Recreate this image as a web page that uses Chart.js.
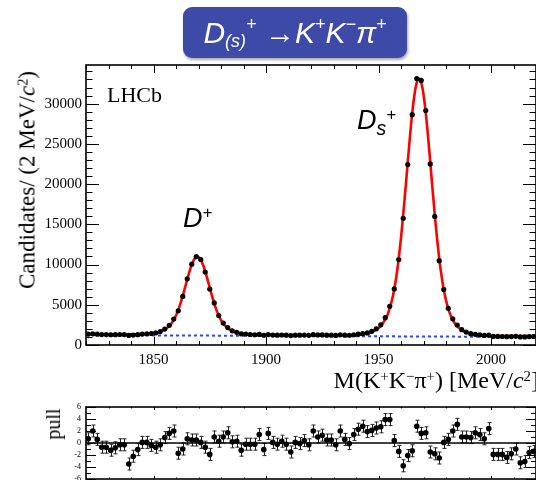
<!DOCTYPE html>
<html>
<head>
<meta charset="utf-8">
<script src="https://cdn.jsdelivr.net/npm/chart.js@4/dist/chart.umd.min.js"></script>
<style>
  html, body { margin: 0; padding: 0; background: #fff; }
  body { width: 536px; height: 480px; position: relative; overflow: hidden; }
  .panel { position: absolute; left: 0; width: 536px; }
  .txt { position: absolute; white-space: nowrap; line-height: 1; color: #000; }
  .serif { font-family: "Liberation Serif", "DejaVu Serif", serif; }
  .sans { font-family: "Liberation Sans", Arial, sans-serif; font-style: italic; }
  sub, sup { line-height: 0; position: relative; }
  #titleBox {
    position: absolute; left: 183px; top: 7px; width: 224px; height: 51px;
    background: #3e4aa8; border-radius: 9px;
    box-shadow: 1px 2px 3px rgba(0,0,0,0.35);
    color: #fff; display: flex; align-items: center; justify-content: center;
    font-family: "Liberation Sans", Arial, sans-serif; font-style: italic; font-size: 30px;
    line-height: 1; white-space: nowrap;
  }
  #titleBox sub { font-size: 0.6em; vertical-align: 0; top: 0.45em; }
  #titleBox sup { font-size: 0.6em; vertical-align: 0; top: -0.45em; }
  .axisTitle sup { font-size: 0.62em; vertical-align: 0; top: -0.5em; }
  .peak sup { font-size: 0.62em; vertical-align: 0; top: -0.55em; }
  .peak sub { font-size: 0.72em; vertical-align: 0; top: 0.3em; }
</style>
</head>
<body>
<div class="panel" style="top:0;height:395px"><canvas id="mainChart"></canvas></div>
<div class="panel" style="top:395px;height:85px"><canvas id="pullChart"></canvas></div>

<div id="titleBox">D<sub>(s)</sub><sup>+</sup>&nbsp;→K<sup>+</sup>K<sup>−</sup>π<sup>+</sup></div>

<div class="txt serif" style="left:107px;top:84px;font-size:22px">LHCb</div>
<div class="txt sans peak" style="left:183px;top:205px;font-size:27px">D<sup>+</sup></div>
<div class="txt sans peak" style="left:357px;top:107px;font-size:27px">D<sub>s</sub><sup>+</sup></div>

<div class="txt serif axisTitle" style="left:27px;top:180px;font-size:23px;transform:translate(-50%,-50%) rotate(-90deg)">Candidates/ (2 MeV/<i>c</i><sup>2</sup>)</div>
<div class="txt serif axisTitle" style="right:-3px;top:368px;font-size:24px">M(K<sup>+</sup>K<sup>−</sup>π<sup>+</sup>) [MeV/<i>c</i><sup>2</sup>]</div>
<div class="txt serif" style="left:53px;top:424px;font-size:20px;transform:translate(-50%,-50%) rotate(-90deg)">pull</div>

<script>
// Invariant-mass bin centres (2 MeV/c^2 bins) [MeV/c^2]
const massBins = [
  1821,1823,1825,1827,1829,1831,1833,1835,1837,1839,
  1841,1843,1845,1847,1849,1851,1853,1855,1857,1859,
  1861,1863,1865,1867,1869,1871,1873,1875,1877,1879,
  1881,1883,1885,1887,1889,1891,1893,1895,1897,1899,
  1901,1903,1905,1907,1909,1911,1913,1915,1917,1919,
  1921,1923,1925,1927,1929,1931,1933,1935,1937,1939,
  1941,1943,1945,1947,1949,1951,1953,1955,1957,1959,
  1961,1963,1965,1967,1969,1971,1973,1975,1977,1979,
  1981,1983,1985,1987,1989,1991,1993,1995,1997,1999,
  2001,2003,2005,2007,2009,2011,2013,2015,2017,2019
];

// Candidates per bin
const candidates = [
  1355,1400,1346,1297,1295,1273,1286,1302,1300,1187,
  1239,1289,1353,1388,1427,1509,1675,1976,2445,3234,
  4242,6033,8229,10041,10984,10613,9075,6954,5227,3667,
  2721,2169,1767,1575,1395,1353,1303,1272,1309,1209,
  1297,1239,1225,1241,1221,1172,1227,1217,1233,1206,
  1284,1247,1254,1224,1222,1192,1273,1227,1210,1277,
  1344,1426,1502,1694,2011,2507,3390,4813,6964,10620,
  15739,22427,28627,33108,32889,29130,22506,15978,10486,6913,
  4560,3248,2486,1901,1602,1410,1326,1249,1186,1222,
  1066,1060,1054,1035,1053,1077,998,1003,1051,1055
];

// Fit model (signal + background), sampled along the mass axis
const fitMass = [
  1820,1821,1823,1825,1827,1829,1831,1833,1835,1837,
  1839,1841,1843,1845,1847,1849,1851,1853,1854,1855,
  1856,1857,1858,1859,1860,1861,1862,1863,1864,1865,
  1866,1867,1868,1869,1869.5,1870,1871,1872,1873,1874,
  1875,1876,1877,1878,1879,1880,1881,1882,1883,1884,
  1885,1887,1889,1891,1893,1895,1897,1899,1901,1903,
  1905,1907,1909,1911,1913,1915,1917,1919,1921,1923,
  1925,1927,1929,1931,1933,1935,1937,1939,1941,1943,
  1945,1947,1949,1950,1951,1952,1953,1954,1955,1956,
  1957,1958,1959,1960,1961,1962,1963,1964,1965,1966,
  1967,1968,1969,1970,1971,1972,1973,1974,1975,1976,
  1977,1978,1979,1980,1981,1982,1983,1984,1985,1986,
  1987,1989,1991,1993,1995,1997,1999,2001,2003,2005,
  2007,2009,2011,2013,2015,2017,2019,2020
];
const fitValue = [
  1330,1329,1327,1324,1322,1320,1317,1315,1313,1311,
  1314,1319,1329,1349,1384,1442,1536,1687,1795,1936,
  2122,2367,2695,3122,3671,4354,5173,6111,7126,8166,
  9150,9991,10607,10932,10974,10931,10603,9985,9142,8156,
  7114,6096,5155,4334,3649,3098,2669,2339,2091,1903,
  1759,1563,1441,1360,1310,1279,1259,1248,1241,1235,
  1232,1230,1228,1225,1223,1221,1219,1216,1214,1212,
  1209,1207,1205,1202,1204,1206,1213,1228,1262,1324,
  1430,1610,1902,2108,2375,2720,3170,3762,4550,5584,
  6931,8644,10765,13305,16223,19420,22744,25968,28848,31131,
  32602,33108,32600,31127,28841,25960,22732,19406,16207,13287,
  10745,8621,6905,5556,4520,3730,3136,2683,2336,2067,
  1858,1562,1377,1266,1200,1162,1141,1130,1124,1117,
  1115,1113,1110,1108,1106,1104,1101,1100
];

// Combinatorial background component
const bkgMass = [1820, 2020];
const bkgValue = [1230, 1000];

// Pull per bin: (data - fit) / error
const pulls = [
  0.7, 2.0, 0.6, -0.7, -0.7, -1.2, -0.8, -0.3, -0.3, -3.5,
  -2.2, -1.1, 0.1, 0.1, -0.4, -0.7, -0.3, 0.9, 1.6, 2.0,
  -1.7, -1.0, 0.7, 0.5, 0.5, 0.1, -0.7, -1.9, 1.0, 0.3,
  1.0, 1.7, 0.2, 0.3, -1.2, -0.2, -0.2, -0.2, 1.4, -1.1,
  1.6, 0.1, -0.2, 0.3, -0.2, -1.5, 0.1, -0.1, 0.4, -0.3,
  2.0, 1.0, 1.3, 0.5, 0.5, -0.3, 2.0, 0.6, -0.1, 1.4,
  2.3, 2.8, 1.9, 2.1, 2.5, 2.7, 3.9, 3.9, 0.4, -1.4,
  -3.8, -2.1, -1.3, 2.8, 1.6, 1.7, -1.5, -1.8, -2.5, 0.1,
  0.6, 2.0, 3.1, 1.0, 1.0, 0.9, 1.7, 1.4, 0.7, 2.4,
  -1.9, -1.9, -1.9, -2.4, -1.8, -1.0, -3.3, -3.1, -1.6, -1.4
];
const pullError = 1;

// Axis ranges and labelled tick values
const massRange = [1820, 2020];
const massTicks = [1850, 1900, 1950, 2000];
const countRange = [0, 34800];
const countTicks = [0, 5000, 10000, 15000, 20000, 25000, 30000];
const pullRange = [-6, 6];
const pullTicks = [-6, -4, -2, 0, 2, 4, 6];

Chart.defaults.font.family = '"Liberation Serif", "DejaVu Serif", serif';
Chart.defaults.color = '#000';

const setTicks = values => scale => { scale.ticks = values.map(v => ({ value: v })); };
const plainNumber = v => String(v);

// Frame with inward-pointing major/minor ticks on all four sides
const frameTicks = {
  id: 'frameTicks',
  afterDatasetsDraw(chart, args, o) {
    const { ctx, chartArea: a, scales: { x, y } } = chart;
    ctx.save();
    ctx.strokeStyle = '#000';
    ctx.lineWidth = 1;
    ctx.beginPath();
    const eps = 1e-6;
    for (let v = Math.ceil(x.min / o.xMinor) * o.xMinor; v <= x.max + eps; v += o.xMinor) {
      const p = Math.round(x.getPixelForValue(v)) + 0.5;
      const isMajor = Math.abs(v / o.xMajor - Math.round(v / o.xMajor)) < eps;
      const len = isMajor ? o.xLen[0] : o.xLen[1];
      ctx.moveTo(p, a.bottom); ctx.lineTo(p, a.bottom - len);
      ctx.moveTo(p, a.top); ctx.lineTo(p, a.top + len);
    }
    for (let v = Math.ceil(y.min / o.yMinor) * o.yMinor; v <= y.max + eps; v += o.yMinor) {
      const p = Math.round(y.getPixelForValue(v)) + 0.5;
      const isMajor = Math.abs(v / o.yMajor - Math.round(v / o.yMajor)) < eps;
      const len = isMajor ? o.yLen[0] : o.yLen[1];
      ctx.moveTo(a.left, p); ctx.lineTo(a.left + len, p);
      ctx.moveTo(a.right, p); ctx.lineTo(a.right - len, p);
    }
    ctx.stroke();
    if (o.zeroLine) {
      const p = y.getPixelForValue(0);
      ctx.lineWidth = 1.5;
      ctx.beginPath(); ctx.moveTo(a.left, p); ctx.lineTo(a.right, p); ctx.stroke();
    }
    ctx.lineWidth = 1.6;
    ctx.strokeRect(a.left, a.top, a.right - a.left, a.bottom - a.top);
    ctx.restore();
  }
};

// Vertical error bars with small caps for the pull points
const pullErrorBars = {
  id: 'pullErrorBars',
  beforeDatasetsDraw(chart) {
    const { ctx, scales: { x, y } } = chart;
    ctx.save();
    ctx.strokeStyle = '#222';
    ctx.lineWidth = 1;
    ctx.beginPath();
    pulls.forEach((p, i) => {
      const px = Math.round(x.getPixelForValue(massBins[i])) + 0.5;
      const y1 = y.getPixelForValue(p + pullError);
      const y2 = y.getPixelForValue(p - pullError);
      ctx.moveTo(px, y1); ctx.lineTo(px, y2);
      ctx.moveTo(px - 2, y1); ctx.lineTo(px + 2, y1);
      ctx.moveTo(px - 2, y2); ctx.lineTo(px + 2, y2);
    });
    ctx.stroke();
    ctx.restore();
  }
};

const toXY = (xs, ys) => xs.map((v, i) => ({ x: v, y: ys[i] }));
const noGrid = { display: false, drawTicks: false, tickLength: 0 };

new Chart(document.getElementById('mainChart'), {
  type: 'line',
  data: {
    datasets: [
      {
        label: 'Data',
        data: toXY(massBins, candidates),
        showLine: false,
        pointRadius: 2.6,
        pointBackgroundColor: '#000',
        pointBorderWidth: 0,
        order: 0
      },
      {
        label: 'Fit',
        data: toXY(fitMass, fitValue),
        borderColor: 'rgb(255,0,0)',
        borderWidth: 2.6,
        pointRadius: 0,
        cubicInterpolationMode: 'monotone',
        order: 1
      },
      {
        label: 'Background',
        data: toXY(bkgMass, bkgValue),
        borderColor: 'rgb(40,70,255)',
        borderWidth: 2,
        borderDash: [3, 3],
        pointRadius: 0,
        order: 2
      }
    ]
  },
  options: {
    responsive: true,
    maintainAspectRatio: false,
    animation: false,
    devicePixelRatio: 1,
    layout: { autoPadding: false, padding: { top: 65, left: 0, right: 0, bottom: 0 } },
    plugins: {
      legend: { display: false },
      tooltip: { enabled: false },
      frameTicks: { xMajor: 50, xMinor: 10, xLen: [8, 4], yMajor: 5000, yMinor: 1000, yLen: [13, 6.5], zeroLine: false }
    },
    scales: {
      x: {
        type: 'linear', min: massRange[0], max: massRange[1],
        grid: noGrid, border: { display: false },
        ticks: { autoSkip: false, maxRotation: 0, padding: 6, font: { size: 15 }, callback: plainNumber },
        afterBuildTicks: setTicks(massTicks),
        afterFit: s => { s.height = 50; s.paddingLeft = 0; s.paddingRight = 0; }
      },
      y: {
        min: countRange[0], max: countRange[1],
        grid: noGrid, border: { display: false },
        ticks: { autoSkip: false, padding: 4, font: { size: 15 }, callback: plainNumber },
        afterBuildTicks: setTicks(countTicks),
        afterFit: s => { s.width = 86; s.paddingTop = 0; s.paddingBottom = 0; }
      }
    }
  },
  plugins: [frameTicks]
});

new Chart(document.getElementById('pullChart'), {
  type: 'line',
  data: {
    datasets: [{
      label: 'Pull',
      data: toXY(massBins, pulls),
      showLine: false,
      pointRadius: 2.8,
      pointBackgroundColor: '#000',
      pointBorderWidth: 0
    }]
  },
  options: {
    responsive: true,
    maintainAspectRatio: false,
    animation: false,
    devicePixelRatio: 1,
    layout: { autoPadding: false, padding: { top: 12, left: 0, right: 0, bottom: 0 } },
    plugins: {
      legend: { display: false },
      tooltip: { enabled: false },
      frameTicks: { xMajor: 50, xMinor: 10, xLen: [3, 1.5], yMajor: 2, yMinor: 1, yLen: [10, 5], zeroLine: true }
    },
    scales: {
      x: {
        type: 'linear', min: massRange[0], max: massRange[1],
        grid: noGrid, border: { display: false },
        ticks: { display: false, padding: 0 },
        afterBuildTicks: setTicks(massTicks),
        afterFit: s => { s.height = 1; s.paddingLeft = 0; s.paddingRight = 0; }
      },
      y: {
        min: pullRange[0], max: pullRange[1],
        grid: noGrid, border: { display: false },
        ticks: { autoSkip: false, padding: 5, font: { size: 8 }, callback: plainNumber },
        afterBuildTicks: setTicks(pullTicks),
        afterFit: s => { s.width = 86; s.paddingTop = 0; s.paddingBottom = 0; }
      }
    }
  },
  plugins: [frameTicks, pullErrorBars]
});
</script>
</body>
</html>
